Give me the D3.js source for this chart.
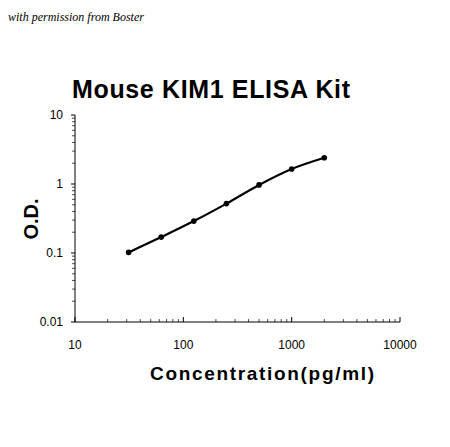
<!DOCTYPE html>
<html><head><meta charset="utf-8">
<script src="https://cdn.jsdelivr.net/npm/d3@7"></script>
<style>body{margin:0;background:#fff}</style></head>
<body><svg id="c" width="450" height="447"></svg>
<script>
const concentrations=[31.25,62.5,125,250,500,1000,2000];
const odValues=[0.102,0.17,0.29,0.52,0.97,1.65,2.4];
const xTicks=[10,100,1000,10000];
const yTicks=[0.01,0.1,1,10];
const svg=d3.select("#c");
const x=d3.scaleLog().domain([10,10000]).range([75,400]);
const y=d3.scaleLog().domain([0.01,10]).range([322,115]);
svg.append("text").attr("x",8).attr("y",21).attr("font-family","Liberation Serif").attr("font-style","italic").attr("font-size",12).text("with permission from Boster");
svg.append("text").attr("x",211).attr("y",98).attr("text-anchor","middle").attr("font-family","Liberation Sans").attr("font-weight","bold").attr("font-size",25).attr("textLength",278).text("Mouse KIM1 ELISA Kit");
const g=svg.append("g");
g.append("line").attr("x1",x(10)).attr("x2",x(10)).attr("y1",y(10)).attr("y2",y(0.01)).attr("stroke","#000");
g.append("line").attr("x1",x(10)).attr("x2",x(10000)).attr("y1",y(0.01)).attr("y2",y(0.01)).attr("stroke","#000");
for(let d=10;d<10000;d*=10)for(let k=2;k<=9;k++){
  g.append("line").attr("x1",x(d*k)).attr("x2",x(d*k)).attr("y1",y(0.01)).attr("y2",y(0.01)-3).attr("stroke","#000").attr("stroke-width",0.7);}
for(let d=0.01;d<9;d*=10)for(let k=2;k<=9;k++){
  g.append("line").attr("x1",x(10)-3).attr("x2",x(10)).attr("y1",y(d*k)).attr("y2",y(d*k)).attr("stroke","#000").attr("stroke-width",0.7);}
yTicks.forEach(t=>{g.append("line").attr("x1",x(10)-4).attr("x2",x(10)).attr("y1",y(t)).attr("y2",y(t)).attr("stroke","#000");
 g.append("text").attr("x",x(10)-12).attr("y",y(t)+4).attr("text-anchor","end").attr("font-family","Liberation Sans").attr("font-size",12).text(t);});
xTicks.forEach(t=>{g.append("line").attr("x1",x(t)).attr("x2",x(t)).attr("y1",y(0.01)).attr("y2",y(0.01)-5).attr("stroke","#000");
 g.append("text").attr("x",x(t)).attr("y",349).attr("text-anchor","middle").attr("font-family","Liberation Sans").attr("font-size",12).text(t);});
svg.append("text").attr("x",262).attr("y",380).attr("text-anchor","middle").attr("font-family","Liberation Sans").attr("font-weight","bold").attr("font-size",19).attr("textLength",224).text("Concentration(pg/ml)");
svg.append("text").attr("transform","translate(38,219) rotate(-90)").attr("text-anchor","middle").attr("font-family","Liberation Sans").attr("font-weight","bold").attr("font-size",20).text("O.D.");
const data=concentrations.map((c,i)=>[c,odValues[i]]);
svg.append("path").datum(data).attr("d",d3.line().x(d=>x(d[0])).y(d=>y(d[1])).curve(d3.curveCatmullRom)).attr("fill","none").attr("stroke","#000").attr("stroke-width",2.2);
svg.selectAll("circle").data(data).join("circle").attr("cx",d=>x(d[0])).attr("cy",d=>y(d[1])).attr("r",2.8).attr("fill","#000");
</script></body></html>
